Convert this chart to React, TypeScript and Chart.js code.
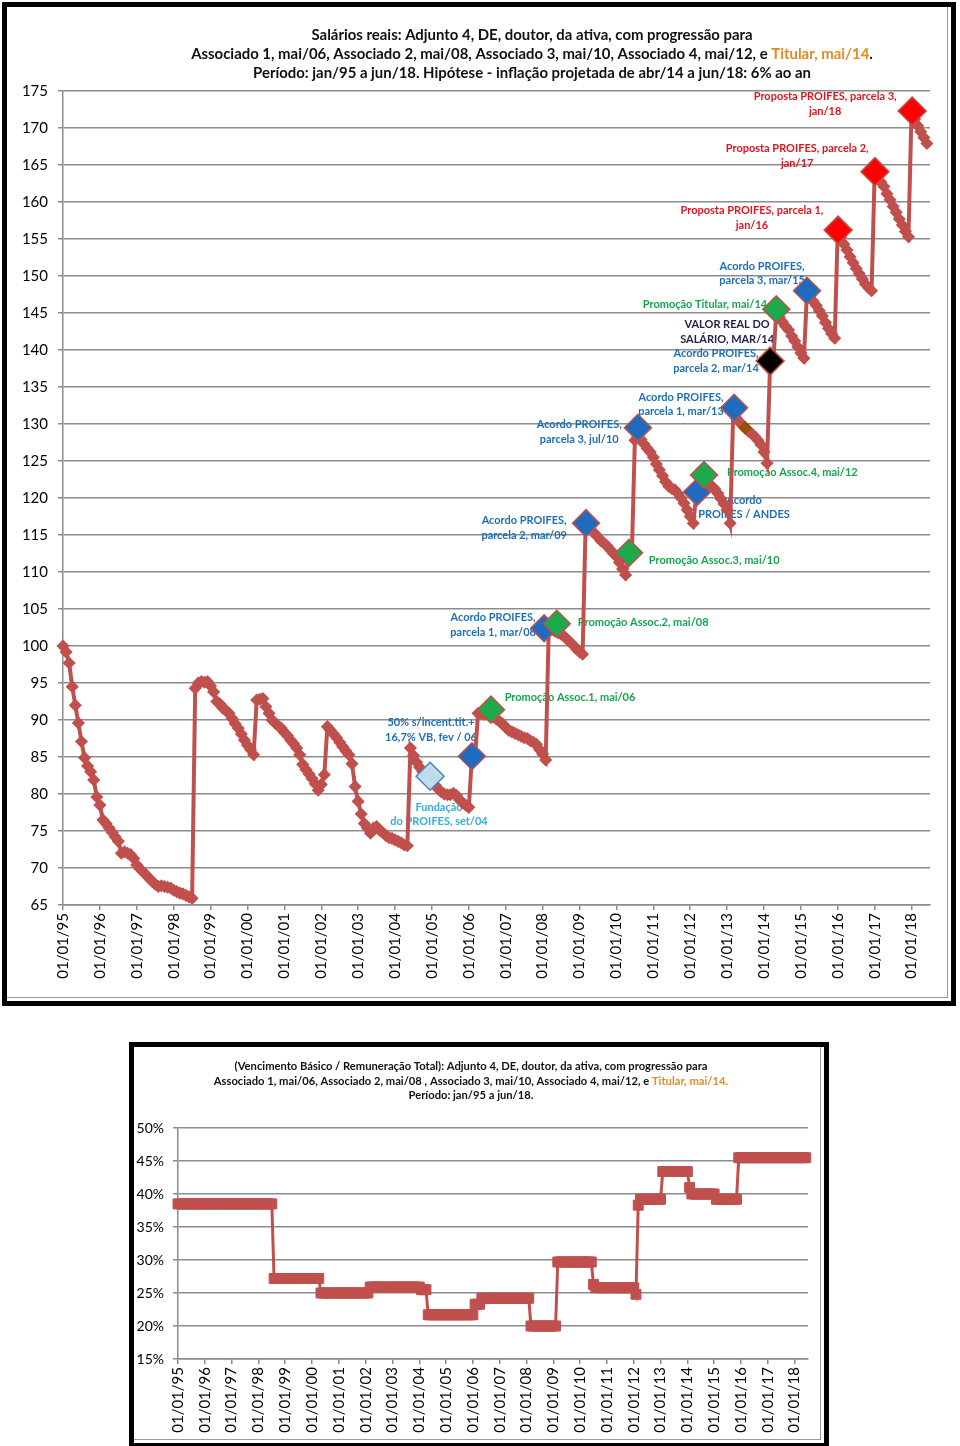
import React, { useEffect, useRef } from 'react';
import { Chart, registerables } from 'chart.js';

Chart.register(...registerables);

// ---------------- DATA ----------------
const yearTickLabels = [
  '01/01/95', '01/01/96', '01/01/97', '01/01/98', '01/01/99', '01/01/00',
  '01/01/01', '01/01/02', '01/01/03', '01/01/04', '01/01/05', '01/01/06',
  '01/01/07', '01/01/08', '01/01/09', '01/01/10', '01/01/11', '01/01/12',
  '01/01/13', '01/01/14', '01/01/15', '01/01/16', '01/01/17', '01/01/18',
];

// Real salary index (jan/95 = 100), one value per month from jan/95
const salary1995to1998 = [
  100.0, 99.2, 97.7, 94.5, 92.0, 89.6, 87.1, 84.9, 83.8, 83.0, 81.9, 79.6,
  78.5, 76.5, 76.0, 75.4, 74.8, 74.2, 73.6, 72.0, 72.2, 72.0, 71.8, 71.3,
  70.4, 69.9, 69.5, 69.1, 68.6, 68.2, 67.8, 67.5, 67.6, 67.5, 67.4, 67.3,
  67.0, 66.8, 66.6, 66.5, 66.3, 66.1, 65.9,
];
const salary1998to2004 = [
  94.3, 95.0, 95.2, 95.1, 95.2, 94.6, 93.8, 92.5, 92.2, 91.6, 91.3, 90.9,
  90.2, 89.5, 88.9, 88.1, 87.3, 86.6, 86.0, 85.3,
  92.7, 92.8, 92.9, 91.8, 90.9, 90.0, 89.6, 89.2, 88.9, 88.3, 87.9, 87.3,
  86.8, 86.2, 85.3, 84.0, 83.3, 82.7, 82.1, 81.4, 80.5, 81.3, 82.6, 89.1,
  88.6, 88.1, 87.6, 87.0, 86.4, 85.8, 85.3, 84.1, 81.0, 79.0, 77.3, 76.0,
  75.4, 74.7, 75.4, 75.6, 75.1, 74.8, 74.4, 74.1, 74.0, 73.8, 73.6, 73.4, 73.1, 73.0,
];
const salary2004to2009 = [
  86.2, 85.2, 84.3, 83.6, 83.0, 82.5, 82.0, 81.5, 81.2, 80.7, 80.3, 80.0,
  79.9, 79.9, 80.1, 79.8, 79.2, 78.8, 78.5, 78.2,
  85.0, 84.8, 90.9, 90.9, 90.8, 90.8, 90.7, 90.4, 90.1, 89.8, 89.5, 89.0,
  88.6, 88.4, 88.2, 88.0, 87.8, 87.6, 87.5, 87.2, 87.0, 86.7, 86.0, 85.4, 84.6,
  102.4, 102.2, 102.0, 101.8, 101.6, 101.3, 100.9, 100.5, 100.1, 99.6, 99.2, 98.9,
];
const salary2009to2014 = [
  116.6, 116.0, 115.5, 115.2, 114.7, 114.2, 113.9, 113.5, 113.0, 112.5, 112.1, 111.3, 110.4, 109.6, 112.3, 112.0,
  127.8, 128.3, 127.9, 127.3, 126.7, 126.2, 125.5, 124.6, 123.8, 123.0,
  122.2, 121.6, 121.3, 121.1, 120.6, 120.0, 119.3, 118.4, 117.5, 116.6,
  120.6, 120.4, 123.0, 122.5, 122.0, 121.6, 121.2, 120.6, 119.9, 119.2, 118.4, 116.6,
  131.6, 130.8, 130.3, 129.8, 129.4, 129.0, 128.7, 128.3, 127.8, 127.2, 126.2, 124.7,
];
const salary2014to2018 = [
  138.4, 138.3, 145.0, 144.4, 143.8, 143.2, 142.7, 141.9, 141.2, 140.4, 139.6, 138.9,
  147.9, 147.3, 146.6, 146.0, 145.3, 144.6, 143.7, 142.9, 142.2, 141.6,
  156.2, 155.3, 154.3, 153.5, 152.6, 151.8, 151.0, 150.3, 149.6, 148.9, 148.4, 148.0,
  164.0, 163.4, 162.7, 162.1, 161.1, 160.3, 159.4, 158.6, 157.7, 156.9, 156.0, 155.3,
  172.3, 171.2, 170.3, 169.5, 168.7, 167.9,
];

// Highlighted events (month index from jan/95, salary index)
const eventMonths = [119.4, 133.0, 139.2, 156.5, 160.6, 170.1, 184.1, 187.0, 206.2, 208.5, 218.3, 221.9, 230.0, 232.0, 242.0, 252.1, 264.1, 276.2];
const eventValues = [82.4, 85.1, 91.4, 102.4, 103.0, 116.6, 112.6, 129.5, 120.8, 123.1, 132.2, 129.5, 138.5, 145.5, 148.0, 156.2, 164.1, 172.3];
const eventKinds = ['fundacao', 'acordo', 'promocao', 'acordo', 'promocao', 'acordo', 'promocao', 'acordo', 'acordo', 'promocao', 'acordo', 'marco', 'valor', 'promocao', 'acordo', 'proposta', 'proposta', 'proposta'];

const eventLabelTexts = [
  ['Proposta PROIFES, parcela 3,', 'jan/18'],
  ['Proposta PROIFES, parcela 2,', 'jan/17'],
  ['Proposta PROIFES, parcela 1,', 'jan/16'],
  ['Acordo PROIFES,', 'parcela 3, mar/15'],
  ['Promoção Titular, mai/14'],
  ['VALOR REAL DO', 'SALÁRIO, MAR/14'],
  ['Acordo PROIFES,', 'parcela 2, mar/14'],
  ['Acordo PROIFES,', 'parcela 1, mar/13'],
  ['Acordo PROIFES,', 'parcela 3, jul/10'],
  ['Promoção Assoc.4, mai/12'],
  ['Acordo', 'PROIFES / ANDES'],
  ['Acordo PROIFES,', 'parcela 2, mar/09'],
  ['Promoção Assoc.3, mai/10'],
  ['Acordo PROIFES,', 'parcela 1, mar/08'],
  ['Promoção Assoc.2, mai/08'],
  ['Promoção Assoc.1, mai/06'],
  ['50% s/incent.tit.+', '16,7% VB, fev / 06'],
  ['Fundação', 'do PROIFES, set/04'],
];
const eventLabelKinds = ['proposta', 'proposta', 'proposta', 'acordo', 'promocao', 'valor', 'acordo', 'acordo', 'acordo', 'promocao', 'acordo', 'acordo', 'promocao', 'acordo', 'promocao', 'promocao', 'acordo', 'fundacao'];

// Basic salary / total pay (%), step blocks: first month of each block and its value
const ratioBlockStarts = [0, 43, 64, 86, 109, 112, 133, 136, 158, 170, 186, 187, 205, 206, 207, 217, 229, 230, 241, 251];
const ratioBlockValues = [38.5, 27.2, 25.0, 25.9, 25.5, 21.7, 23.3, 24.2, 20.0, 29.7, 26.3, 25.8, 24.8, 38.3, 39.2, 43.4, 41.0, 40.0, 39.2, 45.5];
const ratioLastMonth = 281;

const topTitleLines = [
  [{ text: 'Salários reais: Adjunto 4, DE, doutor, da ativa, com progressão para', accent: false }],
  [
    { text: 'Associado 1, mai/06, Associado 2, mai/08, Associado 3, mai/10, Associado 4, mai/12, e ', accent: false },
    { text: 'Titular, mai/14', accent: true },
    { text: '.', accent: false },
  ],
  [{ text: 'Período: jan/95 a jun/18. Hipótese - inflação projetada de abr/14 a jun/18: 6% ao an', accent: false }],
];
const bottomTitleLines = [
  [{ text: '(Vencimento Básico / Remuneração Total): Adjunto 4, DE, doutor, da ativa, com progressão para', accent: false }],
  [
    { text: 'Associado 1, mai/06, Associado 2, mai/08 , Associado 3, mai/10, Associado 4, mai/12, e ', accent: false },
    { text: 'Titular, mai/14.', accent: true },
  ],
  [{ text: 'Período: jan/95 a jun/18.', accent: false }],
];

// ---------------- STYLE / LAYOUT ----------------
const FONT = 'Lato, "Open Sans", Arial, sans-serif';
const GRID = '#8c8c8c';
const SERIES = '#C0504D';
const TITLE_COLOR = '#111111';
const ACCENT = '#E38B22';

const markerStyle: Record<string, { fill: string; border: string; radius: number }> = {
  fundacao: { fill: '#BCDDE9', border: '#4F81BD', radius: 14 },
  acordo: { fill: '#1E6BC0', border: '#C0504D', radius: 13.5 },
  promocao: { fill: '#1DAA4B', border: '#C0504D', radius: 13.5 },
  proposta: { fill: '#FF0000', border: '#C0504D', radius: 14 },
  valor: { fill: '#000000', border: '#C0504D', radius: 14 },
  marco: { fill: '#9A4E0A', border: '#9A4E0A', radius: 6 },
};
const labelColor: Record<string, string> = {
  fundacao: '#33AEDD',
  acordo: '#1F6EB5',
  promocao: '#16A54F',
  proposta: '#E0141E',
  valor: '#23224A',
};
// label anchors (first line centre) in data coordinates
const labelAnchors = [
  [247.9, 174.2], [238.8, 167.2], [224.1, 158.8], [227.4, 151.35], [208.8, 146.1],
  [216.0, 143.4], [212.4, 139.5], [201.0, 133.65], [167.9, 129.9], [237.2, 123.4],
  [221.5, 119.7], [150.0, 116.9], [211.8, 111.5], [139.9, 103.8], [188.7, 103.2],
  [164.9, 93.0], [119.7, 89.6], [122.3, 78.2],
];

type Seg = { text: string; accent: boolean };

function drawSegs(ctx: CanvasRenderingContext2D, segs: Seg[], cx: number, cy: number, size: number) {
  ctx.font = `bold ${size}px ${FONT}`;
  const widths = segs.map((s) => ctx.measureText(s.text).width);
  const total = widths.reduce((a, b) => a + b, 0);
  let x = cx - total / 2;
  ctx.textAlign = 'left';
  ctx.textBaseline = 'middle';
  segs.forEach((s, i) => {
    ctx.fillStyle = s.accent ? ACCENT : TITLE_COLOR;
    ctx.fillText(s.text, x, cy);
    x += widths[i];
  });
}

function makeTitlePlugin(id: string, lines: Seg[][], cx: number, ys: number[], targetWidths: number[]) {
  return {
    id,
    afterDraw(chart: any) {
      const ctx = chart.ctx as CanvasRenderingContext2D;
      ctx.save();
      ctx.font = `bold 20px ${FONT}`;
      const measured = lines.map((l) => l.reduce((a, s) => a + ctx.measureText(s.text).width, 0));
      const sumM = measured.reduce((a, b) => a + b, 0);
      const sumT = targetWidths.reduce((a, b) => a + b, 0);
      const size = (20 * sumT) / sumM;
      lines.forEach((l, i) => drawSegs(ctx, l, cx, ys[i], size));
      ctx.restore();
    },
  };
}

const eventLabelPlugin = {
  id: 'eventLabels',
  beforeDatasetsDraw(chart: any) {
    const ctx = chart.ctx as CanvasRenderingContext2D;
    const xs = chart.scales.x;
    const ys = chart.scales.y;
    ctx.save();
    ctx.font = `bold 20px ${FONT}`;
    const size = (20 * 143) / ctx.measureText('Proposta PROIFES, parcela 3,').width;
    ctx.font = `bold ${size}px ${FONT}`;
    ctx.textAlign = 'center';
    ctx.textBaseline = 'middle';
    eventLabelTexts.forEach((lines, i) => {
      const kind = eventLabelKinds[i];
      const px = xs.getPixelForValue(labelAnchors[i][0]);
      const py = ys.getPixelForValue(labelAnchors[i][1]);
      lines.forEach((t, j) => {
        const y = py + j * (kind === 'valor' ? 15 : 14.6);
        if (kind === 'valor') {
          ctx.strokeStyle = 'rgba(255,255,255,0.95)';
          ctx.lineWidth = 4;
          ctx.lineJoin = 'round';
          ctx.strokeText(t, px, y);
        }
        ctx.fillStyle = labelColor[kind];
        ctx.fillText(t, px, y);
      });
    });
    ctx.restore();
  },
};

function yearTicks(scale: any) {
  scale.ticks = yearTickLabels.map((_, i) => ({ value: i * 12 }));
}

function buildTopConfig() {
  const salary = [...salary1995to1998, ...salary1998to2004, ...salary2004to2009, ...salary2009to2014, ...salary2014to2018];
  const salaryPoints = salary.map((v, i) => ({ x: i, y: v }));
  const eventPoints = eventMonths.map((m, i) => ({ x: m, y: eventValues[i] }));
  return {
    type: 'line',
    data: {
      datasets: [
        {
          label: 'eventos',
          data: eventPoints,
          showLine: false,
          order: 0,
          clip: false,
          pointStyle: 'rectRot',
          pointRadius: eventKinds.map((k) => markerStyle[k].radius),
          pointBackgroundColor: eventKinds.map((k) => markerStyle[k].fill),
          pointBorderColor: eventKinds.map((k) => markerStyle[k].border),
          pointBorderWidth: 1.5,
        },
        {
          label: 'salário real',
          data: salaryPoints,
          order: 1,
          clip: false,
          borderColor: SERIES,
          borderWidth: 4,
          tension: 0,
          pointStyle: 'rectRot',
          pointRadius: 5.5,
          pointBackgroundColor: SERIES,
          pointBorderColor: SERIES,
          pointBorderWidth: 1.5,
        },
      ],
    },
    options: {
      responsive: false,
      animation: false,
      devicePixelRatio: 1,
      events: [],
      layout: { padding: { left: 0, top: 84, right: 17, bottom: 0 } },
      plugins: { legend: { display: false }, tooltip: { enabled: false }, title: { display: false } },
      scales: {
        x: {
          type: 'linear',
          min: 0,
          max: 282,
          afterBuildTicks: yearTicks,
          afterFit: (s: any) => { s.height = 90; },
          grid: { display: true, drawOnChartArea: false, drawTicks: true, tickLength: 5, color: GRID, lineWidth: 1.5 },
          border: { display: true, color: GRID, width: 1.5 },
          ticks: {
            autoSkip: false, minRotation: 90, maxRotation: 90, padding: 3, color: '#000',
            font: { family: FONT, size: 15 },
            callback: (_v: any, i: number) => yearTickLabels[i],
          },
        },
        y: {
          min: 65,
          max: 175,
          afterFit: (s: any) => { s.width = 56; },
          grid: { color: GRID, lineWidth: 1.5, tickLength: 5 },
          border: { display: true, color: GRID, width: 1.5 },
          ticks: { stepSize: 5, padding: 10, color: '#000', font: { family: FONT, size: 15 } },
        },
      },
    },
    plugins: [makeTitlePlugin('topTitle', topTitleLines, 525, [28, 47, 66], [446, 677, 559]), eventLabelPlugin],
  };
}

function buildBottomConfig() {
  const ratioPoints: { x: number; y: number }[] = [];
  ratioBlockStarts.forEach((start, b) => {
    const end = b + 1 < ratioBlockStarts.length ? ratioBlockStarts[b + 1] - 1 : ratioLastMonth;
    for (let m = start; m <= end; m++) ratioPoints.push({ x: m, y: ratioBlockValues[b] });
  });
  return {
    type: 'line',
    data: {
      datasets: [
        {
          label: 'VB / remuneração total',
          data: ratioPoints,
          clip: false,
          borderColor: SERIES,
          borderWidth: 3,
          tension: 0,
          pointStyle: 'rect',
          pointRadius: 7,
          pointBackgroundColor: SERIES,
          pointBorderColor: SERIES,
          pointBorderWidth: 1,
        },
      ],
    },
    options: {
      responsive: false,
      animation: false,
      devicePixelRatio: 1,
      events: [],
      layout: { padding: { left: 0, top: 81, right: 11, bottom: 0 } },
      plugins: { legend: { display: false }, tooltip: { enabled: false }, title: { display: false } },
      scales: {
        x: {
          type: 'linear',
          min: 0,
          max: 282,
          afterBuildTicks: yearTicks,
          afterFit: (s: any) => { s.height = 78; },
          grid: { display: true, drawOnChartArea: false, drawTicks: true, tickLength: 5, color: GRID, lineWidth: 1.5 },
          border: { display: true, color: GRID, width: 1.5 },
          ticks: {
            autoSkip: false, minRotation: 90, maxRotation: 90, padding: 3, color: '#000',
            font: { family: FONT, size: 15 },
            callback: (_v: any, i: number) => yearTickLabels[i],
          },
        },
        y: {
          min: 15,
          max: 50,
          afterFit: (s: any) => { s.width = 44; },
          grid: { color: GRID, lineWidth: 1.5, tickLength: 5 },
          border: { display: true, color: GRID, width: 1.5 },
          ticks: { stepSize: 5, padding: 9, color: '#000', font: { family: FONT, size: 14 }, callback: (v: any) => `${v}%` },
        },
      },
    },
    plugins: [makeTitlePlugin('bottomTitle', bottomTitleLines, 337, [19, 34, 48], [478, 512, 124])],
  };
}

function ChartCanvas(props: { left: number; top: number; width: number; height: number; build: () => any }) {
  const ref = useRef<HTMLCanvasElement>(null);
  useEffect(() => {
    const chart = new Chart(ref.current as HTMLCanvasElement, props.build());
    return () => chart.destroy();
  }, []);
  return (
    <canvas
      ref={ref}
      width={props.width}
      height={props.height}
      style={{ position: 'absolute', left: props.left, top: props.top, width: props.width, height: props.height }}
    />
  );
}

export default function App() {
  return (
    <div style={{ position: 'absolute', left: 0, top: 0, width: 960, height: 1446, background: '#fff', overflow: 'hidden' }}>
      <div style={{ position: 'absolute', left: 2, top: 2, width: 954, height: 1004, border: '5px solid #000', boxSizing: 'border-box' }} />
      <div style={{ position: 'absolute', left: 7, top: 7, width: 941, height: 991, borderRight: '1px solid #9a9a9a', borderBottom: '1px solid #9a9a9a', boxSizing: 'border-box' }} />
      <ChartCanvas left={7} top={7} width={940} height={988} build={buildTopConfig} />

      <div style={{ position: 'absolute', left: 129, top: 1042, width: 700, height: 406, border: '5px solid #000', boxSizing: 'border-box' }} />
      <div style={{ position: 'absolute', left: 134, top: 1047, width: 687, height: 393, borderRight: '1px solid #9a9a9a', borderBottom: '1px solid #9a9a9a', boxSizing: 'border-box' }} />
      <ChartCanvas left={134} top={1047} width={685} height={390} build={buildBottomConfig} />
    </div>
  );
}
